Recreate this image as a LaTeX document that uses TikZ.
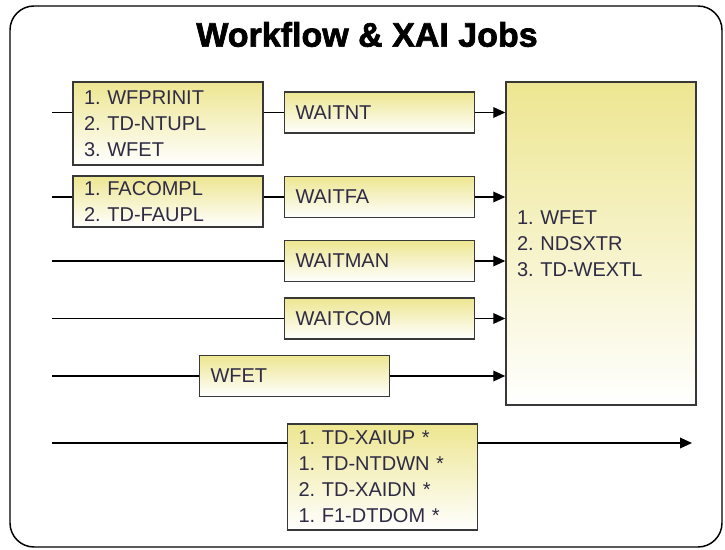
\documentclass[tikz,border=0pt]{standalone}
\usepackage{fontspec}
\setmainfont{Liberation Sans}
\newfontfamily\titlefont[FakeBold=2]{Liberation Sans Bold}
\usepackage{tikz}
\usetikzlibrary{arrows.meta,positioning,calc}
\frenchspacing
\definecolor{khaki}{HTML}{EDE691}
\definecolor{ink}{HTML}{2F2B45}
\definecolor{edge}{HTML}{383838}
\tikzset{
  job/.style={draw=edge,line width=1.1pt,align=left,top color=khaki,bottom color=white,
    minimum width=142.5pt,text width=126pt,inner sep=0pt,text=ink,
    font=\fontsize{15}{19.5}\selectfont},
  wait/.style={job,minimum height=30.75pt},
  wire/.style={line width=1pt,draw=black},
  arr/.style={wire,-{Triangle[length=9pt,width=8pt]}},
  frame/.style={draw=black,line width=1.1pt,rounded corners=18pt},
  heading/.style={font=\titlefont\fontsize{25.5}{30}\selectfont,inner sep=0pt}
}
\begin{document}
\begin{tikzpicture}[x=0.75pt,y=-0.75pt]
  \useasboundingbox (0,0) rectangle (725,550);
  \draw[frame] (10,6) rectangle (722,547);
  \node[heading] (title) at (367,34.5) {Workflow \& XAI Jobs};
  \node[job,minimum height=62.25pt] (prinit) at (168,123.5) {1. WFPRINIT\\2. TD-NTUPL\\3. WFET};
  \node[job,minimum height=38.25pt] (facompl) at (168,201.5) {1. FACOMPL\\2. TD-FAUPL};
  \node[wait] (waitnt) at (379.5,112.5) {WAITNT};
  \node[wait] (waitfa) at (379.5,197) {WAITFA};
  \node[wait] (waitman) at (379.5,261) {WAITMAN};
  \node[wait] (waitcom) at (379.5,318.5) {WAITCOM};
  \node[wait] (wfet) at (294.5,376) {WFET};
  \node[job,minimum height=242.25pt] (wextl) at (601,243.5) {1. WFET\\2. NDSXTR\\3. TD-WEXTL};
  \node[job,minimum height=79.5pt] (xai) at (382.5,477) {1. TD-XAIUP *\\1. TD-NTDWN *\\2. TD-XAIDN *\\1. F1-DTDOM *};
  \coordinate (in1) at (52,112.5);
  \coordinate (in2) at (52,197);
  \coordinate (in3) at (52,261);
  \coordinate (in4) at (52,318.5);
  \coordinate (in5) at (52,376);
  \coordinate (in6) at (52,443);
  \coordinate (out) at (692,443);
  \draw[wire] (in1) -- (in1 -| prinit.west);
  \draw[wire] (prinit.east |- waitnt) -- (waitnt.west);
  \draw[wire] (in2) -- (in2 -| facompl.west);
  \draw[wire] (facompl.east |- waitfa) -- (waitfa.west);
  \draw[wire] (in3) -- (waitman.west);
  \draw[wire] (in4) -- (waitcom.west);
  \draw[wire] (in5) -- (wfet.west);
  \foreach \n in {waitnt,waitfa,waitman,waitcom,wfet}
    \draw[arr] (\n.east) -- (\n.east -| wextl.west);
  \draw[wire] (in6) -- (in6 -| xai.west);
  \draw[arr] (xai.east |- in6) -- (out);
\end{tikzpicture}
\end{document}
